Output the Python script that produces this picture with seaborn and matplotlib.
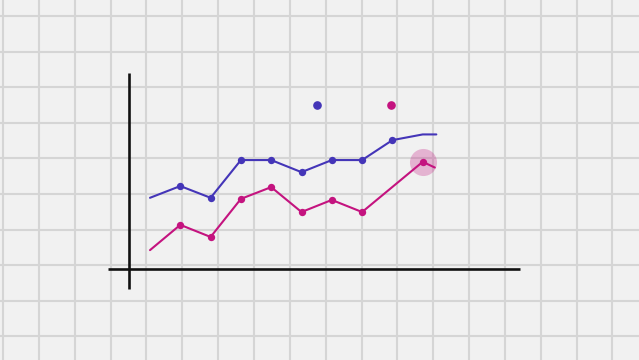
import numpy as np
import pandas as pd
import matplotlib
matplotlib.use("Agg")
import matplotlib.pyplot as plt
import seaborn as sns

# ---- data ----
blue_x = [0, 1, 2, 3, 4, 5, 6, 7, 8, 9, 9.45]
blue_y = [20.0, 23.3, 20.0, 30.6, 30.6, 27.2, 30.6, 30.6, 36.2, 37.8, 37.8]
blue_marked = [False, True, True, True, True, True, True, True, True, False, False]

pink_x = [0, 1, 2, 3, 4, 5, 6, 7, 9, 9.4]
pink_y = [5.3, 12.4, 9.0, 19.7, 23.0, 16.0, 19.4, 16.0, 30.1, 28.5]
pink_marked = [False, True, True, True, True, True, True, True, True, False]

highlight_x = [9]
highlight_y = [30.1]

BLUE = "#4435b8"
PINK = "#c4137f"

W, H = 639, 360
fig = plt.figure(figsize=(W / 100, H / 100), dpi=100)
sns.set_style("white")

# background grid axes (pixel space)
bg = fig.add_axes([0, 0, 1, 1])
bg.set_xlim(0, W)
bg.set_ylim(H, 0)
bg.set_facecolor("#f1f1f1")
bg.set_xticks(np.arange(3, W, 35.85))
bg.set_yticks(np.arange(16, H, 35.6))
bg.grid(True, color="#d5d5d5", linewidth=1.5)
bg.tick_params(length=0, labelbottom=False, labelleft=False)
for s in bg.spines.values():
    s.set_visible(False)
# hand-drawn axes lines
bg.plot([108, 520], [269, 269], color="#111111", lw=1.9, solid_capstyle="butt")
bg.plot([129, 129], [73, 289], color="#111111", lw=1.9, solid_capstyle="butt")

# data axes mapped so that index i -> pixel 150 + 30.3 i, value v -> 269 - 3.56 v
ax = fig.add_axes([0, 0, 1, 1])
ax.patch.set_alpha(0)
ax.set_xlim(-150 / 30.3, (W - 150) / 30.3)
ax.set_ylim(-(H - 269) / 3.56, 269 / 3.56)

dfb = pd.DataFrame({"x": blue_x, "y": blue_y, "m": blue_marked})
dfp = pd.DataFrame({"x": pink_x, "y": pink_y, "m": pink_marked})

ax.scatter(highlight_x, highlight_y, s=380, color=PINK, alpha=0.28, linewidths=0, zorder=1)

sns.lineplot(data=dfb, x="x", y="y", ax=ax, color=BLUE, lw=1.5, sort=False, estimator=None, zorder=2)
sns.lineplot(data=dfp, x="x", y="y", ax=ax, color=PINK, lw=1.5, sort=False, estimator=None, zorder=2)
sns.scatterplot(data=dfb[dfb.m], x="x", y="y", ax=ax, color=BLUE, s=28, linewidth=0, zorder=3)
sns.scatterplot(data=dfp[dfp.m], x="x", y="y", ax=ax, color=PINK, s=28, linewidth=0, zorder=3)
ax.axis("off")

# legend markers (no text)
fig.add_artist(plt.Line2D([317 / W], [1 - 105 / H], marker="o", color=BLUE, markersize=5.2, linestyle="none"))
fig.add_artist(plt.Line2D([391 / W], [1 - 105 / H], marker="o", color=PINK, markersize=5.2, linestyle="none"))

fig.savefig("out.png", dpi=100)
